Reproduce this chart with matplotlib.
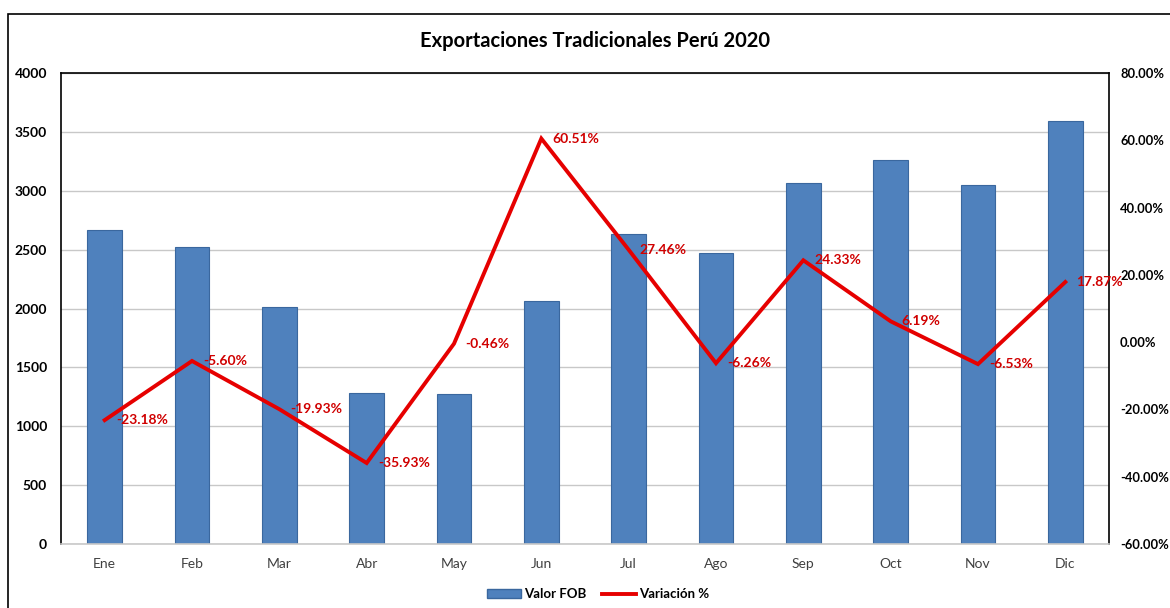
import matplotlib.pyplot as plt
import matplotlib.patches as mpatches
from matplotlib.lines import Line2D
from matplotlib.ticker import FuncFormatter

plt.rcParams['font.family'] = ['Lato', 'DejaVu Sans']

meses = ["Ene", "Feb", "Mar", "Abr", "May", "Jun", "Jul", "Ago", "Sep", "Oct", "Nov", "Dic"]
valor_fob = [2670, 2520, 2015, 1285, 1275, 2060, 2630, 2470, 3070, 3260, 3045, 3595]
variacion = [-23.18, -5.60, -19.93, -35.93, -0.46, 60.51, 27.46, -6.26, 24.33, 6.19, -6.53, 17.87]

fig = plt.figure(figsize=(11.7, 6.08), dpi=100)
W, H = 1170, 608
ax = fig.add_axes([61 / W, 1 - 544 / H, (1109 - 61) / W, (544 - 73) / H])

# outer chart border (cut off at right/bottom like the screenshot)
fig.patches.append(mpatches.Rectangle((8 / W, -0.05), 1.2, 1 - 14 / H + 0.05,
                                      transform=fig.transFigure, fill=False,
                                      edgecolor='black', linewidth=1.2))

x = list(range(len(meses)))
ax.bar(x, valor_fob, width=0.4, color='#4F81BD', edgecolor='#3A679E', linewidth=0.8, zorder=2)
ax.set_xlim(-0.5, 11.5)
ax.set_ylim(0, 4000)
ax.set_yticks(range(0, 4001, 500))
ax.grid(axis='y', color='#C8C8C8', linewidth=1.0, zorder=0)
ax.set_axisbelow(True)
ax.set_xticks(x)
ax.set_xticklabels(meses, fontsize=10, color='#404040')
ax.tick_params(axis='x', length=0, pad=10)
ax.tick_params(axis='y', length=0, pad=10, labelsize=10)
for lab in ax.get_yticklabels():
    lab.set_fontweight('bold')
for s in ['left', 'top', 'right']:
    ax.spines[s].set_color('black')
    ax.spines[s].set_linewidth(1.2)
ax.spines['bottom'].set_color('#C8C8C8')
ax.spines['bottom'].set_linewidth(1.2)

ax2 = ax.twinx()
ax2.plot(x, variacion, color='#E60000', linewidth=2.8, zorder=3, solid_joinstyle='miter')
ax2.set_ylim(-60, 80)
ax2.set_yticks(range(-60, 81, 20))
ax2.yaxis.set_major_formatter(FuncFormatter(lambda v, p: f"{v:.2f}%"))
ax2.tick_params(axis='y', length=0, pad=8, labelsize=9.3)
for lab in ax2.get_yticklabels():
    lab.set_fontweight('bold')
for s in ['left', 'top', 'right', 'bottom']:
    ax2.spines[s].set_visible(False)

for xi, v in zip(x, variacion):
    ax2.annotate(f"{v:.2f}%", (xi, v), xytext=(8, 0), textcoords='offset points',
                 ha='left', va='center', color='#D00000', fontsize=10,
                 fontweight='bold', zorder=4)

fig.text(595 / W, 1 - 41 / H, "Exportaciones Tradicionales Perú 2020", ha='center', va='center',
         fontsize=14.5, fontweight='bold')

handles = [mpatches.Patch(facecolor='#4F81BD', edgecolor='#3A679E', label='Valor FOB'),
           Line2D([0], [0], color='#E60000', linewidth=2.8, label='Variación %')]
leg = fig.legend(handles=handles, loc='center', bbox_to_anchor=(598 / W, 1 - 594 / H), ncol=2,
                 frameon=False, handlelength=2.6, handleheight=0.6, columnspacing=1.2,
                 handletextpad=0.2, prop={'weight': 'bold', 'size': 9.5})

fig.savefig("out.png", dpi=100)
